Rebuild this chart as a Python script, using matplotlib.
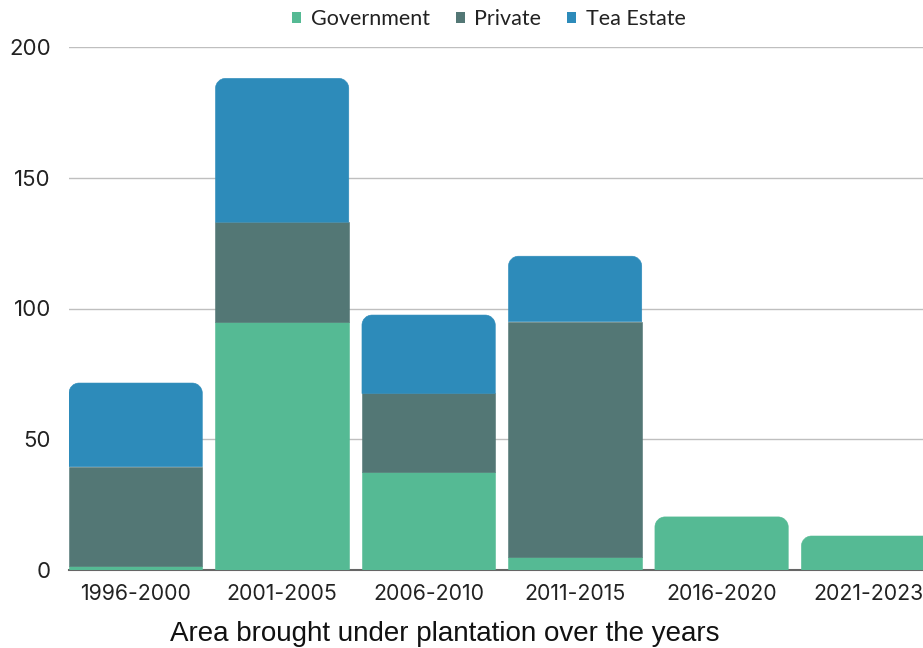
import matplotlib.pyplot as plt
from matplotlib.path import Path
from matplotlib.patches import PathPatch, Patch
import numpy as np

periods = ['1996-2000', '2001-2005', '2006-2010', '2011-2015', '2016-2020', '2021-2023']
government = [1.5, 95, 37.5, 5, 20.3, 13]
private = [38, 38, 30, 90, 0, 0]
tea_estate = [32, 55, 30, 25, 0, 0]

series = [('Government', government, '#55BA94'),
          ('Private', private, '#537775'),
          ('Tea Estate', tea_estate, '#2D8BBA')]

BAR_W = 0.91
CORNER_PX = 10


def rounded_top(ax, x0, y0, w, h, color):
    # bar with rounded top corners; radius given in pixels, converted per axis
    fig = ax.figure
    fig.canvas.draw()
    bbox = ax.get_window_extent()
    x_lo, x_hi = ax.get_xlim()
    y_lo, y_hi = ax.get_ylim()
    rx = CORNER_PX * (x_hi - x_lo) / bbox.width
    ry = CORNER_PX * (y_hi - y_lo) / bbox.height
    ry = min(ry, h)
    k = 0.5523
    x1, y1 = x0 + w, y0 + h
    verts = [(x0, y0), (x0, y1 - ry),
             (x0, y1 - ry + k * ry), (x0 + rx - k * rx, y1), (x0 + rx, y1),
             (x1 - rx, y1),
             (x1 - rx + k * rx, y1), (x1, y1 - ry + k * ry), (x1, y1 - ry),
             (x1, y0), (x0, y0)]
    codes = [Path.MOVETO, Path.LINETO,
             Path.CURVE4, Path.CURVE4, Path.CURVE4,
             Path.LINETO,
             Path.CURVE4, Path.CURVE4, Path.CURVE4,
             Path.LINETO, Path.CLOSEPOLY]
    ax.add_patch(PathPatch(Path(verts, codes), facecolor=color, edgecolor=color,
                           linewidth=0.4, zorder=3))


fig = plt.figure(figsize=(9.23, 6.48), dpi=100)
ax = fig.add_axes([69 / 923, 1 - 570 / 648, (923 - 69) / 923, (570 - 47) / 648])
x = np.arange(len(periods))
ax.set_xlim(-BAR_W / 2, 5.375)
ax.set_ylim(0, 200)

# find which segment is the top one for each bar
totals = np.zeros(len(periods))
top_idx = [max(i for i, s in enumerate(series) if s[1][j] > 0) for j in range(len(periods))]

handles = []
for i, (name, vals, color) in enumerate(series):
    for j, v in enumerate(vals):
        if v <= 0:
            continue
        if top_idx[j] == i:
            rounded_top(ax, x[j] - BAR_W / 2, totals[j], BAR_W, v, color)
        else:
            ax.bar(x[j], v, BAR_W, bottom=totals[j], color=color, edgecolor=color,
                   linewidth=0.4, zorder=3)
    totals += np.array(vals)
    handles.append(Patch(facecolor=color, label=name))

ax.set_yticks([0, 50, 100, 150, 200])
ax.set_xticks(x)
ax.set_xticklabels(periods, fontfamily='Inter', fontsize=15.3, color='#222222')
ax.tick_params(axis='y', length=0, pad=13, labelsize=16, labelcolor='#222222')
ax.tick_params(axis='x', length=0, pad=10)
for lbl in ax.get_yticklabels():
    lbl.set_fontfamily('Inter')
ax.grid(axis='y', color='#BFBFBF', linewidth=1, zorder=0)
for side in ['top', 'right', 'left']:
    ax.spines[side].set_visible(False)
ax.spines['bottom'].set_color('#666666')
ax.spines['bottom'].set_linewidth(1.5)
ax.spines['bottom'].set_zorder(2)

leg = fig.legend(handles=handles, loc='center', bbox_to_anchor=(489 / 923, 1 - 19 / 648),
                 ncol=3, frameon=False, handlelength=0.42, handleheight=0.42,
                 handletextpad=0.45, columnspacing=1.2, borderaxespad=0,
                 prop={'family': 'Lato', 'size': 15.5})
for t in leg.get_texts():
    t.set_color('#222222')

fig.text(445 / 923, 1 - 634 / 648, 'Area brought under plantation over the years',
         ha='center', va='center', fontfamily='Liberation Sans', fontsize=20, color='#111111')

fig.savefig('out.png', dpi=100)
